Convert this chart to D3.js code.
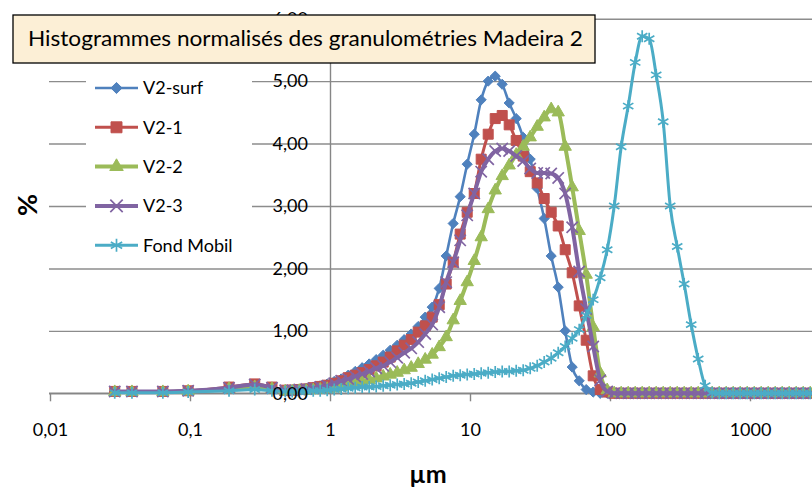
<!DOCTYPE html>
<html>
<head>
<meta charset="utf-8">
<script src="https://cdn.jsdelivr.net/npm/d3@7"></script>
<style>
body { margin: 0; background: #fff; }
svg { display: block; font-family: Lato, "Open Sans", sans-serif; }
</style>
</head>
<body>
<script>
var width = 812;
var height = 494;

// tailles (µm) : quelques classes fines puis classes log
var sizes = [0.029, 0.0385, 0.064, 0.097, 0.19, 0.29, 0.385,
    0.479, 0.537, 0.603, 0.676, 0.759, 0.851, 0.955, 1.072, 1.202, 1.349,
    1.514, 1.698, 1.905, 2.138, 2.399, 2.692, 3.02, 3.388, 3.802, 4.266,
    4.786, 5.37, 6.026, 6.761, 7.586, 8.511, 9.55, 10.72, 12.02, 13.49,
    15.14, 16.98, 19.05, 21.38, 23.99, 26.92, 30.2, 33.88, 38.02, 42.66,
    47.86, 53.7, 60.26, 67.61, 75.86, 85.11, 95.5, 107.2, 120.2, 134.9,
    151.4, 169.8, 190.5, 213.8, 239.9, 269.2, 302, 338.8, 380.2, 426.6,
    478.6, 537, 602.6, 676.1, 758.6, 851.1, 955, 1072, 1202, 1349,
    1514, 1698, 1905, 2138, 2399, 2692];

var v2surf = [0.03, 0.03, 0.03, 0.04, 0.08, 0.12, 0.08,
    0.05, 0.05, 0.06, 0.08, 0.1, 0.12, 0.15, 0.19, 0.23, 0.29,
    0.35, 0.41, 0.47, 0.54, 0.61, 0.69, 0.77, 0.86, 0.95, 1.07,
    1.22, 1.38, 1.68, 2.2, 2.72, 3.15, 3.67, 4.15, 4.7, 5.0,
    5.08, 4.95, 4.65, 4.4, 4.1, 3.75, 3.28, 2.8, 2.2, 1.7,
    1.0, 0.42, 0.2, 0.06, 0.02, 0, 0, 0, 0, 0,
    0, 0, 0, 0, 0, 0, 0, 0, 0, 0,
    0, 0, 0, 0, 0, 0, 0, 0, 0, 0,
    0, 0, 0, 0, 0, 0];

var v21 = [0.03, 0.03, 0.03, 0.04, 0.1, 0.15, 0.1,
    0.05, 0.05, 0.06, 0.07, 0.09, 0.11, 0.13, 0.16, 0.2, 0.25,
    0.29, 0.33, 0.38, 0.44, 0.5, 0.58, 0.68, 0.77, 0.86, 0.98,
    1.08, 1.22, 1.42, 1.75, 2.1, 2.55, 2.9, 3.2, 3.75, 4.15,
    4.4, 4.45, 4.3, 4.05, 3.8, 3.55, 3.37, 3.12, 2.9, 2.68,
    2.3, 1.93, 1.4, 0.85, 0.28, 0.06, 0.02, 0, 0, 0,
    0, 0, 0, 0, 0, 0, 0, 0, 0, 0,
    0, 0, 0, 0, 0, 0, 0, 0, 0, 0,
    0, 0, 0, 0, 0, 0];

var v22 = [0.02, 0.02, 0.02, 0.03, 0.07, 0.1, 0.07,
    0.03, 0.03, 0.04, 0.04, 0.05, 0.06, 0.07, 0.08, 0.1, 0.13,
    0.16, 0.18, 0.21, 0.24, 0.27, 0.3, 0.33, 0.37, 0.41, 0.47,
    0.54, 0.62, 0.74, 0.9, 1.17, 1.48, 1.78, 2.12, 2.5, 2.95,
    3.25, 3.48, 3.65, 3.82, 3.95, 4.1, 4.27, 4.42, 4.55, 4.5,
    3.95, 3.3, 2.6, 1.9, 1.06, 0.32, 0.05, 0, 0, 0,
    0, 0, 0, 0, 0, 0, 0, 0, 0, 0,
    0, 0, 0, 0, 0, 0, 0, 0, 0, 0,
    0, 0, 0, 0, 0, 0];

var v23 = [0.03, 0.03, 0.03, 0.04, 0.09, 0.14, 0.09,
    0.05, 0.05, 0.06, 0.07, 0.08, 0.1, 0.12, 0.16, 0.2, 0.23,
    0.27, 0.31, 0.35, 0.4, 0.44, 0.5, 0.57, 0.65, 0.72, 0.82,
    0.95, 1.1, 1.38, 1.78, 2.1, 2.45, 2.85, 3.2, 3.55, 3.75,
    3.88, 3.92, 3.88, 3.8, 3.72, 3.6, 3.53, 3.53, 3.52, 3.45,
    3.2, 2.66, 1.95, 1.35, 0.75, 0.21, 0.03, 0, 0, 0,
    0, 0, 0, 0, 0, 0, 0, 0, 0, 0,
    0, 0, 0, 0, 0, 0, 0, 0, 0, 0,
    0, 0, 0, 0, 0, 0];

var fondMobil = [0.01, 0.01, 0.01, 0.02, 0.04, 0.06, 0.04,
    0.03, 0.03, 0.03, 0.03, 0.04, 0.04, 0.05, 0.06, 0.07, 0.08,
    0.09, 0.1, 0.1, 0.11, 0.12, 0.13, 0.14, 0.15, 0.16, 0.18,
    0.2, 0.22, 0.24, 0.26, 0.28, 0.29, 0.3, 0.31, 0.32, 0.33,
    0.34, 0.35, 0.35, 0.36, 0.37, 0.4, 0.44, 0.5, 0.56, 0.65,
    0.75, 0.88, 1.02, 1.25, 1.5, 1.85, 2.3, 3.0, 3.95, 4.6,
    5.3, 5.72, 5.68, 5.1, 4.35, 3.0, 2.35, 1.75, 1.1, 0.55,
    0.12, 0.01, 0, 0, 0, 0, 0, 0, 0, 0,
    0, 0, 0, 0, 0, 0];

var seriesNames = ['V2-surf', 'V2-1', 'V2-2', 'V2-3', 'Fond Mobil'];
var seriesValues = [v2surf, v21, v22, v23, fondMobil];

var xTicks = [0.01, 0.1, 1, 10, 100, 1000];
var xTickLabels = ['0,01', '0,1', '1', '10', '100', '1000'];
var yTicks = [0, 1, 2, 3, 4, 5, 6];
var yTickLabels = ['0,00', '1,00', '2,00', '3,00', '4,00', '5,00', '6,00'];

var titleText = 'Histogrammes normalisés des granulométries Madeira 2';

// styles des séries (couleurs Excel 2007)
var styles = [
    { color: '#4f81bd', symbol: d3.symbolDiamond2, size: 66, filled: true, lw: 2.6 },
    { color: '#c0504d', symbol: d3.symbolSquare, size: 100, filled: true, lw: 3 },
    { color: '#9bbb59', symbol: d3.symbolTriangle, size: 66, filled: true, lw: 4 },
    { color: '#8064a2', symbol: d3.symbolTimes || d3.symbolCross, size: 85, filled: false, lw: 4 },
    { color: '#4bacc6', symbol: d3.symbolAsterisk || d3.symbolCross, size: 100, filled: false, lw: 3 }
];

var svg = d3.select('body').append('svg').attr('width', width).attr('height', height);

var left = 49, right = 812;
var x = d3.scaleLog().domain([0.01, 10000]).range([50, 890]);
var y = d3.scaleLinear().domain([0, 6]).range([393.3, 18.7]);

var defs = svg.append('defs');
defs.append('clipPath').attr('id', 'plot')
    .append('rect').attr('x', left).attr('y', 0).attr('width', right - left).attr('height', 400);
defs.append('clipPath').attr('id', 'leg')
    .append('rect').attr('x', 86).attr('y', 60).attr('width', 155).attr('height', 210);

// grille horizontale
var grid = svg.append('g')
    .attr('transform', 'translate(' + right + ',0)')
    .call(d3.axisLeft(y).tickValues(yTicks).tickSize(right - left).tickFormat(''));
grid.select('.domain').remove();
grid.selectAll('line').attr('stroke', '#8c8c8c').attr('stroke-width', 1.4);

// axe x
var xAxis = svg.append('g')
    .attr('transform', 'translate(0,' + y(0) + ')')
    .call(d3.axisBottom(x).tickValues(xTicks).tickSize(8).tickPadding(22)
        .tickFormat(function (d, i) { return xTickLabels[i]; }));
xAxis.select('.domain').remove();
xAxis.append('line').attr('x1', left).attr('x2', right).attr('y1', 0).attr('y2', 0)
    .attr('stroke', '#868686').attr('stroke-width', 1.4);
xAxis.selectAll('line').attr('stroke', '#868686').attr('stroke-width', 1.4);
xAxis.selectAll('text').attr('fill', '#000').attr('font-size', 18).attr('font-family', 'Lato');

// axe y (croise en x = 1) : seulement la ligne ici
var yAxis = svg.append('g')
    .attr('transform', 'translate(' + x(1) + ',0)')
    .call(d3.axisLeft(y).tickValues(yTicks).tickSize(0).tickSizeOuter(0).tickFormat(''));
yAxis.select('.domain').attr('stroke', '#868686').attr('stroke-width', 1.4);
yAxis.selectAll('.tick').remove();

// séries
var line = d3.line()
    .x(function (d) { return x(d[0]); })
    .y(function (d) { return y(d[1]); })
    .curve(d3.curveMonotoneX);

var plot = svg.append('g').attr('clip-path', 'url(#plot)');
seriesValues.forEach(function (vals, k) {
    var st = styles[k];
    var pts = sizes.map(function (s, i) { return [s, vals[i]]; });
    var g = plot.append('g');
    g.append('path').datum(pts)
        .attr('d', line)
        .attr('fill', 'none')
        .attr('stroke', st.color)
        .attr('stroke-width', st.lw)
        .attr('stroke-linejoin', 'round');
    g.selectAll('path.m').data(pts).enter().append('path')
        .attr('class', 'm')
        .attr('transform', function (d) { return 'translate(' + x(d[0]) + ',' + y(d[1]) + ')'; })
        .attr('d', d3.symbol().type(st.symbol).size(st.size))
        .attr('fill', st.filled ? st.color : 'none')
        .attr('stroke', st.color)
        .attr('stroke-width', st.filled ? 1 : 1.7);
});

// étiquettes de l'axe y par-dessus les courbes
var yAxis2 = svg.append('g')
    .attr('transform', 'translate(' + x(1) + ',0)')
    .call(d3.axisLeft(y).tickValues(yTicks).tickSize(0).tickPadding(22)
        .tickFormat(function (d, i) { return yTickLabels[i]; }));
yAxis2.select('.domain').remove();
yAxis2.selectAll('text').attr('fill', '#000').attr('font-size', 18).attr('font-family', 'Lato');

// légende
var leg = svg.append('g');
leg.append('rect').attr('x', 86).attr('y', 64).attr('width', 166).attr('height', 198).attr('fill', '#fff');
var legBody = leg.append('g').attr('clip-path', 'url(#leg)');
var legItems = legBody.selectAll('g.item').data(seriesNames).enter().append('g')
    .attr('class', 'item')
    .attr('transform', function (d, i) { return 'translate(0,' + (88 + i * 39.3) + ')'; });
legItems.append('line')
    .attr('x1', 95).attr('x2', 138).attr('y1', 0).attr('y2', 0)
    .attr('stroke', function (d, i) { return styles[i].color; })
    .attr('stroke-width', function (d, i) { return styles[i].lw; });
legItems.append('path')
    .attr('transform', 'translate(116.5,0)')
    .attr('d', function (d, i) { return d3.symbol().type(styles[i].symbol).size(styles[i].size * 1.2)(); })
    .attr('fill', function (d, i) { return styles[i].filled ? styles[i].color : 'none'; })
    .attr('stroke', function (d, i) { return styles[i].color; })
    .attr('stroke-width', function (d, i) { return styles[i].filled ? 1 : 1.7; });
legItems.append('text')
    .attr('x', 143).attr('y', 0).attr('dy', '0.36em')
    .attr('font-size', 18)
    .attr('fill', '#000')
    .text(function (d) { return d; });

// titres des axes
svg.append('text')
    .attr('transform', 'translate(27,205) rotate(-90)')
    .attr('text-anchor', 'middle').attr('dy', '0.36em')
    .attr('font-weight', 'bold').attr('font-size', 27)
    .text('%');
svg.append('text')
    .attr('x', 428).attr('y', 483)
    .attr('text-anchor', 'middle')
    .attr('font-weight', 'bold').attr('font-size', 25)
    .text('µm');

// titre
svg.append('rect')
    .attr('x', 13).attr('y', 15).attr('width', 582).attr('height', 48)
    .attr('fill', '#fcefd6').attr('stroke', '#000').attr('stroke-width', 1.3);
svg.append('text')
    .attr('x', 28).attr('y', 45.5)
    .attr('font-size', 22)
    .attr('textLength', 555).attr('lengthAdjust', 'spacingAndGlyphs')
    .text(titleText);
</script>
</body>
</html>
